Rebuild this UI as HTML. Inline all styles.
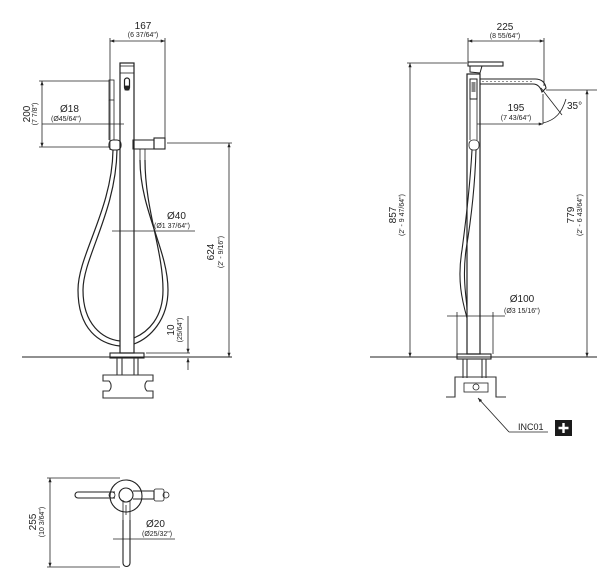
<!DOCTYPE html>
<html><head><meta charset="utf-8"><style>
html,body{margin:0;padding:0;background:#fff}
svg{display:block}
text{font-family:"Liberation Sans",sans-serif;fill:#222}
.t{font-size:10px}.s{font-size:7px}
</style></head><body>
<svg width="609" height="587" viewBox="0 0 609 587" xmlns="http://www.w3.org/2000/svg">
<defs>
<marker id="a" viewBox="0 0 8 6" refX="8" refY="3" markerWidth="6" markerHeight="4" orient="auto-start-reverse"><path d="M0,0 L8,3 L0,6z" fill="#222"/></marker>
</defs>
<g stroke="#222" stroke-width="0.8" fill="none">
<line x1="110" y1="38" x2="110" y2="150"/><line x1="165" y1="38" x2="165" y2="140"/>
<line x1="110" y1="41" x2="165" y2="41" marker-start="url(#a)" marker-end="url(#a)"/>
<line x1="39" y1="81" x2="109" y2="81"/><line x1="39" y1="147" x2="109" y2="147"/>
<line x1="42" y1="81" x2="42" y2="147" marker-start="url(#a)" marker-end="url(#a)"/>
<line x1="42" y1="124" x2="124" y2="124"/>
<line x1="167" y1="143" x2="232" y2="143"/>
<line x1="229" y1="143" x2="229" y2="357" marker-start="url(#a)" marker-end="url(#a)"/>
<line x1="112" y1="231" x2="195" y2="231"/>
<line x1="146" y1="353" x2="190" y2="353"/>
<line x1="188" y1="316" x2="188" y2="353" marker-end="url(#a)"/>
<line x1="188" y1="370" x2="188" y2="358" marker-end="url(#a)"/>
<line x1="22" y1="357" x2="232" y2="357" stroke-width="1"/>
<rect x="120" y="63" width="14" height="290" stroke-width="1.2"/>
<line x1="120" y1="66" x2="134" y2="66"/><line x1="120" y1="73" x2="134" y2="73"/>
<rect x="124.5" y="78" width="5" height="12" rx="2.5" stroke-width="1.2"/>
<rect x="125" y="86" width="4" height="4" fill="#222"/>
<rect x="109" y="80" width="5" height="20"/>
<line x1="109" y1="100" x2="109" y2="140"/><line x1="114" y1="100" x2="114" y2="140"/>
<rect x="109" y="140" width="12" height="10" rx="4" stroke-width="1.1"/>
<path d="M133,140 h21 v9 h-21z" stroke-width="1.1"/>
<rect x="154" y="138" width="11" height="11" stroke-width="1.1"/>
<line x1="140" y1="149" x2="140" y2="160"/><line x1="145" y1="149" x2="145" y2="160"/>
<path d="M113,150 C112,210 78,255 78,290 C78,330 100,344 120,346" stroke-width="1.2"/>
<path d="M117,150 C116,212 83,258 83,290 C83,325 103,339 120,341" stroke-width="1.2"/>
<path d="M140,160 C140,210 168,250 168,290 C168,320 150,338 134,344" stroke-width="1.2"/>
<path d="M145,160 C145,210 163,250 163,290 C163,318 148,332 134,338" stroke-width="1.2"/>
<rect x="110" y="353" width="34" height="5" stroke-width="1.1"/>
<g stroke-width="1.1" stroke="#333"><line x1="117" y1="358" x2="117" y2="375"/><line x1="122" y1="358" x2="122" y2="375"/><line x1="134" y1="358" x2="134" y2="375"/><line x1="138" y1="358" x2="138" y2="375"/>
<path d="M103,375 h50 v6 h-6 a7,7 0 0 0 0,10 h6 v7 h-50 v-7 h6 a7,7 0 0 0 0,-10 h-6z"/></g>
<line x1="468" y1="38" x2="468" y2="62"/><line x1="544" y1="38" x2="544" y2="86"/>
<line x1="468" y1="41" x2="544" y2="41" marker-start="url(#a)" marker-end="url(#a)"/>
<line x1="407" y1="63" x2="467" y2="63"/>
<line x1="410" y1="63" x2="410" y2="357" marker-start="url(#a)" marker-end="url(#a)"/>
<line x1="546" y1="90" x2="597" y2="90"/>
<line x1="587" y1="90" x2="587" y2="357" marker-start="url(#a)" marker-end="url(#a)"/>
<line x1="477" y1="124" x2="543" y2="124" marker-end="url(#a)"/>
<line x1="543" y1="94" x2="543" y2="124"/>
<line x1="541" y1="88" x2="562" y2="115"/>
<path d="M543,123 C556,120 562,112 566,99"/>
<line x1="447" y1="316" x2="505" y2="316"/>
<line x1="457" y1="312" x2="457" y2="354"/><line x1="493" y1="312" x2="493" y2="354"/>
<line x1="370" y1="357" x2="597" y2="357" stroke-width="1"/>
<rect x="468" y="62" width="35" height="4" stroke-width="1.1"/>
<path d="M470,66 L470,72 L480,73 L482,66" stroke-width="1"/>
<rect x="467" y="74" width="13" height="280" stroke-width="1.2"/>
<path d="M480,79 H535 C541,79 545,82 546,88 L542,92 C540,86 537,84 533,84 H480" stroke-width="1.1"/>
<line x1="482" y1="81.5" x2="533" y2="81.5" stroke-dasharray="2 2" stroke-width="0.5"/>
<rect x="470" y="79" width="7" height="20" stroke-width="1"/>
<rect x="471.5" y="82" width="4" height="10" fill="#888" stroke="none"/>
<line x1="470" y1="99" x2="470" y2="140"/><line x1="477" y1="99" x2="477" y2="140"/>
<rect x="469" y="140" width="10" height="10" rx="4"/>
<path d="M472,150 C470,185 466,220 462,250 C457,280 462,300 467,318" stroke-width="1.1"/>
<path d="M476,150 C475,185 471,220 466,250 C462,280 467,300 467,310" stroke-width="1.1"/>
<rect x="457" y="354" width="34" height="5" stroke-width="1.1"/>
<g stroke-width="1.1" stroke="#333"><line x1="463" y1="359" x2="463" y2="378"/><line x1="467" y1="359" x2="467" y2="378"/><line x1="482" y1="359" x2="482" y2="378"/><line x1="486" y1="359" x2="486" y2="378"/>
<path d="M446,397 h9 v-20 h41 v20 h10"/></g>
<rect x="464" y="383" width="24" height="9"/>
<circle cx="476" cy="387" r="3"/>
<line x1="478" y1="398" x2="509" y2="432" marker-start="url(#a)"/>
<line x1="509" y1="432" x2="548" y2="432"/>
<line x1="47" y1="478" x2="120" y2="478"/><line x1="47" y1="567" x2="120" y2="567"/>
<line x1="50" y1="478" x2="50" y2="567" marker-start="url(#a)" marker-end="url(#a)"/>
<line x1="113" y1="539" x2="175" y2="539"/>
<circle cx="126" cy="496" r="16" stroke-width="1.1"/>
<circle cx="126" cy="495" r="7" stroke-width="1.1"/>
<path d="M115,492 H78 a3,3 0 0 0 0,6 H115" stroke-width="1.1"/>
<circle cx="112" cy="495" r="3"/>
<path d="M133,491 h21 v8 h-21" stroke-width="1.1"/>
<rect x="154" y="489" width="10" height="12" rx="2"/>
<circle cx="166" cy="495" r="3"/>
<path d="M123,500 V520 M130,500 V520"/>
<path d="M123,520 V563 a3.5,3.5 0 0 0 7,0 V520" stroke-width="1.1"/>
<line x1="126" y1="505" x2="126" y2="515"/>
</g>
<text class="t" x="143" y="29" text-anchor="middle">167</text>
<text class="s" x="143" y="37" text-anchor="middle">(6 37/64")</text>
<text class="t" x="60" y="112">Ø18</text>
<text class="s" x="51" y="121">(Ø45/64")</text>
<text class="t" transform="translate(30,114) rotate(-90)" text-anchor="middle">200</text>
<text class="s" transform="translate(37,114) rotate(-90)" text-anchor="middle">(7 7/8")</text>
<text class="t" x="167" y="219">Ø40</text>
<text class="s" x="154" y="228">(Ø1 37/64")</text>
<text class="t" transform="translate(214,252) rotate(-90)" text-anchor="middle">624</text>
<text class="s" transform="translate(223,252) rotate(-90)" text-anchor="middle">(2' - 9/16")</text>
<text class="t" transform="translate(174,330) rotate(-90)" text-anchor="middle">10</text>
<text class="s" transform="translate(182,330) rotate(-90)" text-anchor="middle">(25/64")</text>
<text class="t" x="505" y="30" text-anchor="middle">225</text>
<text class="s" x="505" y="38" text-anchor="middle">(8 55/64")</text>
<text class="t" x="516" y="111" text-anchor="middle">195</text>
<text class="s" x="516" y="120" text-anchor="middle">(7 43/64")</text>
<text class="t" x="567" y="109">35°</text>
<text class="t" transform="translate(396,215) rotate(-90)" text-anchor="middle">857</text>
<text class="s" transform="translate(404,215) rotate(-90)" text-anchor="middle">(2' - 9 47/64")</text>
<text class="t" transform="translate(574,215) rotate(-90)" text-anchor="middle">779</text>
<text class="s" transform="translate(582,215) rotate(-90)" text-anchor="middle">(2' - 6 43/64")</text>
<text class="t" x="522" y="302" text-anchor="middle">Ø100</text>
<text class="s" x="522" y="313" text-anchor="middle">(Ø3 15/16")</text>
<text class="t" x="518" y="430" style="font-size:9px">INC01</text>
<rect x="555" y="420" width="17" height="16" fill="#1a1a1a"/>
<path d="M563.5,423 v10 M558.5,428 h10" stroke="#fff" stroke-width="2.4"/>
<text class="t" transform="translate(36,522) rotate(-90)" text-anchor="middle">255</text>
<text class="s" transform="translate(44,522) rotate(-90)" text-anchor="middle">(10 3/64")</text>
<text class="t" x="146" y="527">Ø20</text>
<text class="s" x="142" y="536">(Ø25/32")</text>
</svg>
</body></html>
